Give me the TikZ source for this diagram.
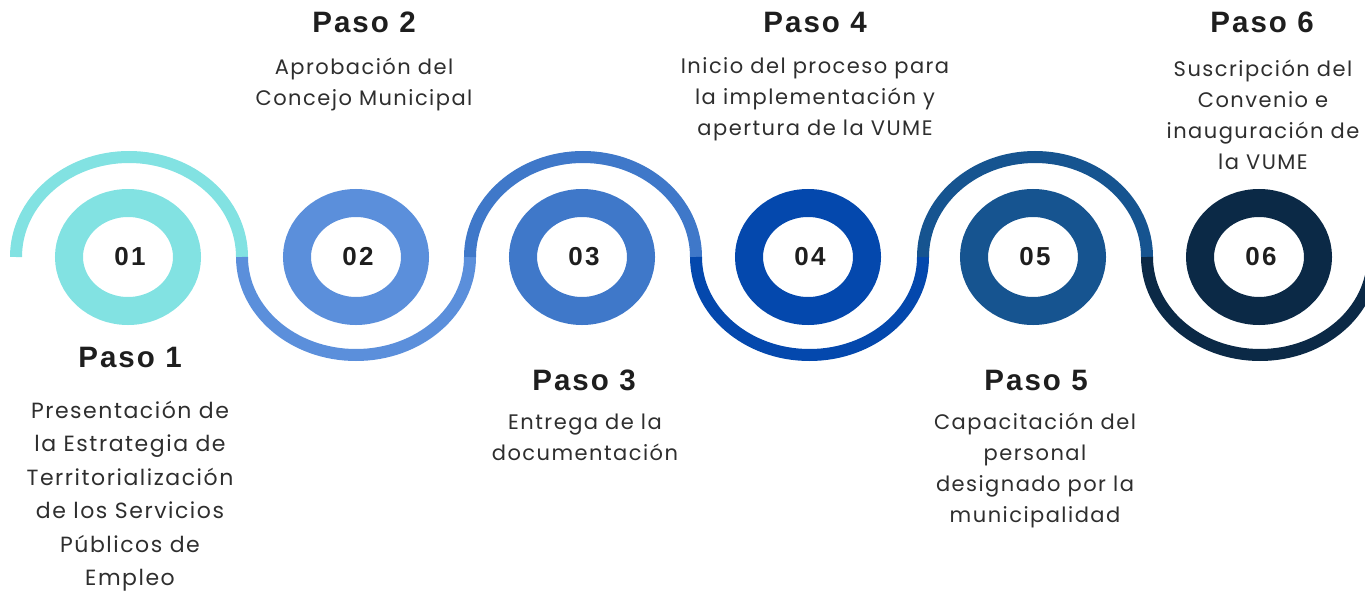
\documentclass[tikz,border=0pt]{standalone}
\usepackage{fontspec}
\setmainfont{Poppins}[LetterSpace=7]
\newfontfamily\headfont{Liberation Sans}[LetterSpace=7]
\newfontfamily\numfont{Liberation Sans}[LetterSpace=9]
\definecolor{c1}{HTML}{82E2E2}
\definecolor{c2}{HTML}{5B8FDB}
\definecolor{c3}{HTML}{3F78C9}
\definecolor{c4}{HTML}{0448AD}
\definecolor{c5}{HTML}{165490}
\definecolor{c6}{HTML}{0B2946}
\definecolor{txt}{HTML}{1E1E1E}
\definecolor{btxt}{HTML}{2E2E2E}
\begin{document}
\begin{tikzpicture}[x=1pt,y=-1pt,
  ring/.style={line width=28pt},
  wave/.style={line width=12pt},
  num/.style={font=\numfont\fontsize{26}{26}\selectfont\bfseries, text=txt},
  head/.style={font=\headfont\fontsize{29.5}{29.5}\selectfont\bfseries, text=txt},
  body/.style={font=\fontsize{21}{31}\selectfont, align=center, text=btxt}]
\useasboundingbox (0,0) rectangle (1365,591);
% waves
\draw[wave,c1] (16,257) arc[start angle=180, end angle=0, x radius=113pt, y radius=100pt];
\draw[wave,c2] (242,257) arc[start angle=180, end angle=360, x radius=114pt, y radius=98pt];
\draw[wave,c3] (470,257) arc[start angle=180, end angle=0, x radius=113pt, y radius=100pt];
\draw[wave,c4] (696,257) arc[start angle=180, end angle=360, x radius=113.5pt, y radius=98pt];
\draw[wave,c5] (923,257) arc[start angle=180, end angle=0, x radius=112pt, y radius=100pt];
\draw[wave,c6] (1147,257) arc[start angle=180, end angle=360, x radius=113pt, y radius=98pt];
% rings
\foreach \i/\x/\c in {1/128/c1,2/356/c2,3/582/c3,4/808/c4,5/1033/c5,6/1259/c6}{
  \draw[ring,\c] (\x,257) ellipse [x radius=59pt, y radius=54pt];
  \node[num] (n\i) at (\x+2,257) {0\i};
}
% texts
\node[head] (h1) at (130,357) {Paso 1};
\node[body, font=\fontsize{22}{33.5}\selectfont] (b1) at (130,496) {Presentación de\\la Estrategia de\\Territorialización\\de los Servicios\\Públicos de\\Empleo};
\node[head] (h2) at (364,22) {Paso 2};
\node[body] (b2) at (364,84) {Aprobación del\\Concejo Municipal};
\node[head] (h3) at (584,380) {Paso 3};
\node[body] (b3) at (585,437) {Entrega de la\\documentación};
\node[head] (h4) at (815,22) {Paso 4};
\node[body] (b4) at (815,99) {Inicio del proceso para\\la implementación y\\apertura de la VUME};
\node[head] (h5) at (1036,380) {Paso 5};
\node[body] (b5) at (1035,470) {Capacitación del\\personal\\designado por la\\municipalidad};
\node[head] (h6) at (1262,22) {Paso 6};
\node[body] (b6) at (1263,115) {Suscripción del\\Convenio e\\inauguración de\\la VUME};
\end{tikzpicture}
\end{document}
